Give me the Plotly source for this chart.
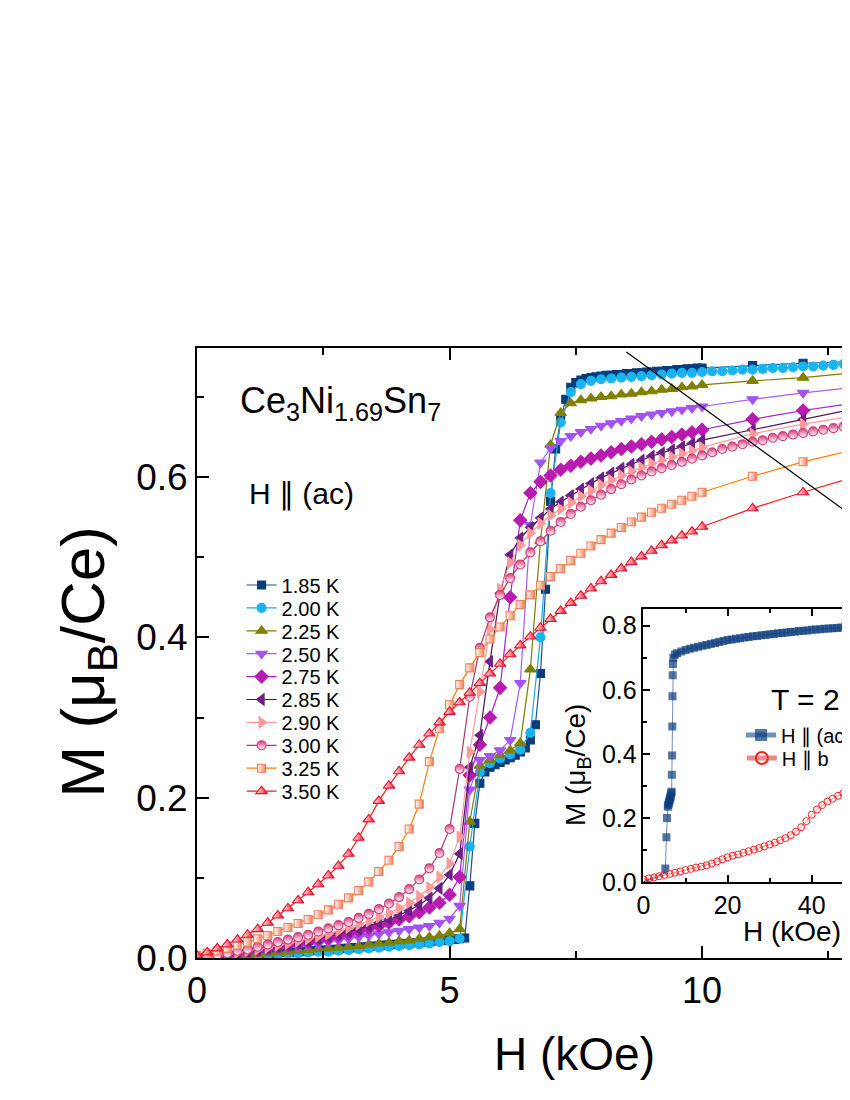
import plotly.graph_objects as go

FONT = "Arial, 'Liberation Sans', Helvetica, sans-serif"

# ---------------- main panel data (H in kOe, M in muB/Ce) ----------------
H_FINE = [0.0, 0.1, 0.2, 0.3, 0.4, 0.5, 0.6, 0.7, 0.8, 0.9,
          1.0, 1.1, 1.2, 1.3, 1.4, 1.5, 1.6, 1.7, 1.8, 1.9,
          2.0, 2.1, 2.2, 2.3, 2.4, 2.5, 2.6, 2.7, 2.8, 2.9,
          3.0, 3.1, 3.2, 3.3, 3.4, 3.5, 3.6, 3.7, 3.8, 3.9,
          4.0, 4.1, 4.2, 4.3, 4.4, 4.5, 4.6, 4.7, 4.8, 4.9,
          5.0, 5.1, 5.2, 5.3, 5.4, 5.5, 5.6, 5.7, 5.8, 5.9,
          6.0, 6.1, 6.2, 6.3, 6.4, 6.5, 6.6, 6.7, 6.8, 6.9,
          7.0, 7.1, 7.2, 7.3, 7.4, 7.5, 7.6, 7.7, 7.8, 7.9,
          8.0, 8.1, 8.2, 8.3, 8.4, 8.5, 8.6, 8.7, 8.8, 8.9,
          9.0, 9.1, 9.2, 9.3, 9.4, 9.5, 9.6, 9.7, 9.8, 9.9, 10.0]
H_STEP = [0.0, 0.2, 0.4, 0.6, 0.8, 1.0, 1.2, 1.4, 1.6, 1.8,
          2.0, 2.2, 2.4, 2.6, 2.8, 3.0, 3.2, 3.4, 3.6, 3.8,
          4.0, 4.2, 4.4, 4.6, 4.8, 5.0, 5.2, 5.4, 5.6, 5.8,
          6.0, 6.2, 6.4, 6.6, 6.8, 7.0, 7.2, 7.4, 7.6, 7.8,
          8.0, 8.2, 8.4, 8.6, 8.8, 9.0, 9.2, 9.4, 9.6, 9.8, 10.0]
H_TAIL = [11.0, 12.0, 13.0]
H_TAIL_DENSE = [10.2, 10.4, 10.6, 10.8, 11.0, 11.2, 11.4, 11.6, 11.8, 12.0,
                12.2, 12.4, 12.6, 12.8, 13.0]

M_185 = [0.000, 0.000, 0.001, 0.001, 0.001, 0.002, 0.002, 0.003, 0.003, 0.003,
         0.004, 0.004, 0.004, 0.005, 0.005, 0.006, 0.006, 0.007, 0.007, 0.007,
         0.008, 0.008, 0.009, 0.009, 0.010, 0.010, 0.010, 0.011, 0.011, 0.012,
         0.012, 0.013, 0.013, 0.014, 0.014, 0.015, 0.015, 0.016, 0.016, 0.017,
         0.017, 0.018, 0.018, 0.019, 0.019, 0.020, 0.020, 0.021, 0.022, 0.022,
         0.023, 0.023, 0.024, 0.025, 0.090, 0.168, 0.218, 0.232, 0.238, 0.241,
         0.244, 0.247, 0.250, 0.253, 0.257, 0.262, 0.272, 0.291, 0.355, 0.460,
         0.570, 0.635, 0.672, 0.697, 0.712, 0.718, 0.721, 0.723, 0.724, 0.725,
         0.726, 0.727, 0.727, 0.728, 0.728, 0.729, 0.729, 0.730, 0.730, 0.731,
         0.731, 0.732, 0.732, 0.733, 0.733, 0.734, 0.734, 0.735, 0.735, 0.736, 0.736]
M_185_TAIL = [0.739, 0.742, 0.744]

M_200 = [0.000, 0.000, 0.001, 0.001, 0.002, 0.003, 0.003, 0.004, 0.005, 0.005,
         0.006, 0.007, 0.008, 0.008, 0.009, 0.010, 0.011, 0.012, 0.013, 0.014,
         0.015, 0.016, 0.017, 0.018, 0.020, 0.021, 0.024, 0.139, 0.232, 0.243,
         0.249, 0.254, 0.260, 0.281, 0.400, 0.580, 0.668, 0.706, 0.716, 0.720,
         0.722, 0.723, 0.724, 0.725, 0.726, 0.727, 0.728, 0.729, 0.730, 0.730, 0.731]
M_200_TAIL = [0.732, 0.732, 0.733, 0.734, 0.734, 0.735, 0.736, 0.736, 0.737, 0.738,
              0.738, 0.739, 0.740, 0.741, 0.742]

M_225 = [0.000, 0.001, 0.001, 0.002, 0.003, 0.004, 0.005, 0.006, 0.007, 0.008,
         0.009, 0.010, 0.011, 0.012, 0.013, 0.014, 0.015, 0.017, 0.018, 0.019,
         0.021, 0.022, 0.024, 0.026, 0.028, 0.031, 0.036, 0.170, 0.240, 0.247,
         0.253, 0.259, 0.268, 0.360, 0.520, 0.640, 0.680, 0.692, 0.696, 0.698,
         0.700, 0.701, 0.703, 0.704, 0.706, 0.707, 0.709, 0.710, 0.712, 0.713, 0.715]
M_225_TAIL = [0.720, 0.724, 0.730]

M_250 = [0.000, 0.001, 0.002, 0.004, 0.005, 0.007, 0.008, 0.010, 0.011, 0.013,
         0.014, 0.016, 0.018, 0.020, 0.022, 0.024, 0.026, 0.028, 0.030, 0.032,
         0.034, 0.036, 0.038, 0.040, 0.044, 0.049, 0.065, 0.210, 0.247, 0.252,
         0.259, 0.272, 0.343, 0.540, 0.618, 0.636, 0.645, 0.651, 0.656, 0.660,
         0.664, 0.667, 0.670, 0.673, 0.676, 0.678, 0.680, 0.682, 0.684, 0.686, 0.688]
M_250_TAIL = [0.697, 0.705, 0.712]

M_275 = [0.000, 0.001, 0.002, 0.004, 0.006, 0.008, 0.010, 0.012, 0.014, 0.016,
         0.018, 0.020, 0.023, 0.025, 0.028, 0.031, 0.034, 0.037, 0.040, 0.044,
         0.048, 0.052, 0.057, 0.063, 0.069, 0.079, 0.101, 0.228, 0.266, 0.300,
         0.337, 0.450, 0.546, 0.580, 0.594, 0.602, 0.609, 0.614, 0.619, 0.623,
         0.627, 0.631, 0.635, 0.638, 0.641, 0.644, 0.647, 0.650, 0.653, 0.656, 0.659]
M_275_TAIL = [0.672, 0.683, 0.692]

M_285 = [0.000, 0.001, 0.003, 0.004, 0.006, 0.008, 0.010, 0.012, 0.014, 0.016,
         0.019, 0.021, 0.024, 0.027, 0.030, 0.033, 0.036, 0.040, 0.044, 0.048,
         0.053, 0.059, 0.066, 0.075, 0.087, 0.104, 0.130, 0.238, 0.278, 0.370,
         0.455, 0.503, 0.524, 0.537, 0.549, 0.560, 0.569, 0.577, 0.585, 0.592,
         0.599, 0.605, 0.611, 0.616, 0.621, 0.626, 0.630, 0.634, 0.638, 0.642, 0.646]
M_285_TAIL = [0.659, 0.672, 0.685]

M_290 = [0.000, 0.001, 0.003, 0.005, 0.007, 0.009, 0.011, 0.013, 0.016, 0.018,
         0.021, 0.024, 0.027, 0.030, 0.034, 0.038, 0.042, 0.046, 0.051, 0.056,
         0.062, 0.069, 0.077, 0.088, 0.101, 0.118, 0.151, 0.257, 0.332, 0.410,
         0.460, 0.493, 0.515, 0.530, 0.542, 0.552, 0.560, 0.568, 0.576, 0.583,
         0.590, 0.596, 0.602, 0.607, 0.612, 0.617, 0.621, 0.625, 0.629, 0.633, 0.637]
M_290_TAIL = [0.654, 0.666, 0.676]

M_300 = [0.000, 0.002, 0.004, 0.006, 0.009, 0.011, 0.014, 0.017, 0.020, 0.023,
         0.026, 0.029, 0.033, 0.037, 0.041, 0.045, 0.050, 0.055, 0.061, 0.068,
         0.076, 0.086, 0.098, 0.112, 0.131, 0.161, 0.236, 0.326, 0.387, 0.425,
         0.453, 0.474, 0.491, 0.506, 0.520, 0.533, 0.544, 0.554, 0.563, 0.571,
         0.578, 0.585, 0.591, 0.597, 0.602, 0.607, 0.611, 0.615, 0.619, 0.623, 0.627]
M_300_TAIL = [0.631, 0.635, 0.638, 0.641, 0.644, 0.646, 0.649, 0.651, 0.653, 0.655,
              0.657, 0.659, 0.661, 0.663, 0.665]

M_325 = [0.003, 0.006, 0.009, 0.012, 0.016, 0.020, 0.024, 0.028, 0.033, 0.038,
         0.043, 0.048, 0.054, 0.060, 0.067, 0.075, 0.084, 0.095, 0.108, 0.122,
         0.139, 0.161, 0.192, 0.245, 0.286, 0.316, 0.341, 0.362, 0.381, 0.398,
         0.413, 0.427, 0.441, 0.453, 0.465, 0.476, 0.486, 0.496, 0.505, 0.514,
         0.522, 0.530, 0.537, 0.544, 0.550, 0.556, 0.561, 0.566, 0.571, 0.576, 0.581]
M_325_TAIL = [0.601, 0.619, 0.634]

M_350 = [0.003, 0.007, 0.012, 0.017, 0.023, 0.029, 0.036, 0.044, 0.053, 0.062,
         0.072, 0.082, 0.092, 0.103, 0.115, 0.130, 0.150, 0.173, 0.196, 0.215,
         0.233, 0.250, 0.266, 0.280, 0.294, 0.307, 0.319, 0.331, 0.343, 0.355,
         0.367, 0.379, 0.390, 0.401, 0.412, 0.423, 0.433, 0.443, 0.452, 0.461,
         0.470, 0.478, 0.486, 0.494, 0.501, 0.508, 0.515, 0.521, 0.527, 0.532, 0.538]
M_350_TAIL = [0.561, 0.581, 0.600]

# ---------------- inset data (T = 2 K) ----------------
INSET_H_AC = [0, 1, 2, 3, 4, 5, 5.2, 5.45, 5.6, 5.8, 5.9, 6.0, 6.1, 6.2, 6.3, 6.4,
              6.5, 6.6, 6.7, 6.75, 6.8, 6.85, 6.9, 6.95, 7.0, 7.1, 7.5,
              8, 9, 10, 11, 12, 13, 14, 15, 16, 17, 18, 19, 20, 21, 22, 23, 24,
              25, 26, 27, 28, 29, 30, 31, 32, 33, 34, 35, 36, 37, 38, 39, 40,
              41, 42, 43, 44, 45, 46, 47, 48, 49, 50, 51]
INSET_M_AC = [0.000, 0.005, 0.010, 0.015, 0.021, 0.030, 0.042, 0.140, 0.200, 0.235,
              0.240, 0.245, 0.250, 0.255, 0.260, 0.265, 0.270, 0.278, 0.282, 0.335,
              0.395, 0.485, 0.580, 0.645, 0.680, 0.700, 0.710,
              0.714, 0.719, 0.724, 0.728, 0.731, 0.734, 0.737, 0.740, 0.743, 0.746,
              0.749, 0.752, 0.755, 0.757, 0.759, 0.761, 0.763, 0.765, 0.767, 0.768,
              0.770, 0.771, 0.773, 0.774, 0.776, 0.777, 0.779, 0.780, 0.781, 0.783,
              0.784, 0.785, 0.787, 0.788, 0.789, 0.790, 0.791, 0.792, 0.793, 0.794,
              0.795, 0.796, 0.797, 0.798]
INSET_H_B = [0, 1.25, 2.5, 3.75, 5, 6.25, 7.5, 8.75, 10, 11.25, 12.5, 13.75, 15,
             16.25, 17.5, 18.75, 20, 21.25, 22.5, 23.75, 25, 26.25, 27.5, 28.75,
             30, 31.25, 32.5, 33.75, 35, 36.25, 37.5, 38.75, 40, 41.25, 42.5,
             43.75, 45, 46.25, 47.5, 48.75, 50]
INSET_M_B = [0.008, 0.011, 0.014, 0.018, 0.022, 0.025, 0.029, 0.033, 0.037, 0.041,
             0.045, 0.048, 0.052, 0.058, 0.064, 0.071, 0.077, 0.082, 0.086, 0.091,
             0.096, 0.101, 0.106, 0.111, 0.117, 0.123, 0.130, 0.137, 0.146, 0.157,
             0.171, 0.190, 0.210, 0.226, 0.240, 0.251, 0.260, 0.269, 0.277, 0.284,
             0.290]

SERIES = [
    ("1.85 K", H_FINE + H_TAIL, M_185 + M_185_TAIL),
    ("2.00 K", H_STEP + H_TAIL_DENSE, M_200 + M_200_TAIL),
    ("2.25 K", H_STEP + H_TAIL, M_225 + M_225_TAIL),
    ("2.50 K", H_STEP + H_TAIL, M_250 + M_250_TAIL),
    ("2.75 K", H_STEP + H_TAIL, M_275 + M_275_TAIL),
    ("2.85 K", H_STEP + H_TAIL, M_285 + M_285_TAIL),
    ("2.90 K", H_STEP + H_TAIL, M_290 + M_290_TAIL),
    ("3.00 K", H_STEP + H_TAIL_DENSE, M_300 + M_300_TAIL),
    ("3.25 K", H_STEP + H_TAIL, M_325 + M_325_TAIL),
    ("3.50 K", H_STEP + H_TAIL, M_350 + M_350_TAIL),
]

# symbol, line colour, fill colour, edge colour, size, gradient
STYLES = {
    "1.85 K": ("square", "#1f4f8f", "#0b3c7c", "#0b3c7c", 8, None),
    "2.00 K": ("circle", "#1aa8e6", "#19b4f0", "#19b4f0", 9, None),
    "2.25 K": ("triangle-up", "#7d7d00", "#808000", "#808000", 10, None),
    "2.50 K": ("triangle-down", "#a65ef5", "#a451f5", "#a451f5", 10, None),
    "2.75 K": ("diamond", "#a41ed2", "#b81bb0", "#b81bb0", 10, None),
    "2.85 K": ("triangle-left", "#4c1352", "#6b2185", "#6b2185", 10, None),
    "2.90 K": ("triangle-right", "#ff9a9a", "#ff9a9a", "#ff9a9a", 10, None),
    "3.00 K": ("circle", "#a83a6c", "#d23c7a", "#d23c7a", 9,
               dict(type="vertical", color="#ffffff")),
    "3.25 K": ("square", "#ff8000", "#ffffff", "#f0805a", 8,
               dict(type="horizontal", color="#f0805a")),
    "3.50 K": ("triangle-up", "#ff1a1a", "#ffffff", "#e8102a", 10,
               dict(type="horizontal", color="#e8102a")),
}

# page offset (body margin) plus a small horizontal correction; every position
# below is given in pixels of the final picture
OFF = 8
SX = 1.0066
W = int(round(850 * SX)) - OFF
H = 1100 - 2 * OFF


def px_x(p):
    return (p * SX - OFF) / W


def px_y(p):
    return 1.0 - (p - OFF) / H


MAIN_X_MAX = (850 - 196) / 50.2
INSET_X_MAX = (850 - 640) / 4.175

fig = go.Figure()
legends = {}

# main curves: one small legend per entry so the rows sit where the original has them
for i, (name, h, m) in enumerate(SERIES):
    symbol, lcol, fill, edge, size, grad = STYLES[name]
    marker = dict(symbol=symbol, size=size, color=fill,
                  line=dict(color=edge, width=1.1))
    if grad:
        marker["gradient"] = grad
    key = "legend" if i == 0 else "legend%d" % (i + 1)
    fig.add_trace(go.Scatter(
        x=h, y=m, name=name, mode="lines+markers",
        line=dict(color=lcol, width=1.2),
        marker=marker, showlegend=True,
        xaxis="x", yaxis="y", legend=key,
    ))
    legends[key] = dict(x=px_x(240), y=px_y(585 + 22.9 * i), xanchor="left",
                        yanchor="middle", bgcolor="rgba(0,0,0,0)",
                        font=dict(size=20), itemsizing="trace", borderwidth=0,
                        visible=True)

# inset
ac_sizes = [3 if h < 5.1 else 8 for h in INSET_H_AC]
fig.add_trace(go.Scatter(
    x=INSET_H_AC, y=INSET_M_AC, name="H \u2225 (ac)", mode="lines+markers",
    line=dict(color="#6f8fbd", width=1),
    marker=dict(symbol="square", size=ac_sizes, color="#0b3c7c",
                line=dict(width=0)),
    showlegend=True, xaxis="x2", yaxis="y2", legend="legend11",
))
fig.add_trace(go.Scatter(
    x=INSET_H_B, y=INSET_M_B, name="H \u2225 b", mode="lines+markers",
    line=dict(color="#f08a8a", width=1),
    marker=dict(symbol="circle-open", size=7, color="#ff2020",
                line=dict(width=1)),
    showlegend=True, xaxis="x2", yaxis="y2", legend="legend12",
))
for j, key in enumerate(["legend11", "legend12"]):
    legends[key] = dict(x=px_x(737), y=px_y(735 + 23 * j), xanchor="left",
                        yanchor="middle", bgcolor="rgba(0,0,0,0)",
                        font=dict(size=20), itemsizing="constant", borderwidth=0,
                        visible=True)

axis_common = dict(
    showline=True, linecolor="black", showgrid=False, zeroline=False,
    ticks="inside", tickcolor="black", automargin=False,
)

fig.update_layout(
    template="none",
    width=W, height=H,
    showlegend=True,
    margin=dict(l=0, r=0, t=0, b=0, pad=0),
    paper_bgcolor="white", plot_bgcolor="rgba(0,0,0,0)",
    font=dict(family=FONT, color="black"),
    xaxis=dict(axis_common, domain=[px_x(196), 1.0], range=[0, MAIN_X_MAX],
               linewidth=2, mirror="ticks", tickwidth=2, ticklen=12,
               dtick=5, tick0=0, tickfont=dict(size=36),
               minor=dict(dtick=2.5, ticks="inside", ticklen=7, tickwidth=2,
                          tickcolor="black"),
               anchor="y"),
    yaxis=dict(axis_common, domain=[px_y(958), px_y(348)], range=[0, 0.761],
               linewidth=2, tickwidth=2, ticklen=12, dtick=0.2, tick0=0,
               tickformat=".1f", tickfont=dict(size=37),
               minor=dict(dtick=0.1, ticks="inside", ticklen=7, tickwidth=2,
                          tickcolor="black"),
               anchor="x"),
    xaxis2=dict(axis_common, domain=[px_x(640), 1.0], range=[0, INSET_X_MAX],
                linewidth=1.5, mirror="ticks", tickwidth=1.5, ticklen=7,
                dtick=20, tick0=0, tickfont=dict(size=25),
                minor=dict(dtick=10, ticks="inside", ticklen=4, tickwidth=1.5,
                           tickcolor="black"),
                anchor="y2"),
    yaxis2=dict(axis_common, domain=[px_y(882), px_y(609)], range=[0, 0.852],
                linewidth=1.5, tickwidth=1.5, ticklen=7, dtick=0.2, tick0=0,
                tickformat=".1f", tickfont=dict(size=25),
                minor=dict(dtick=0.1, ticks="inside", ticklen=4, tickwidth=1.5,
                           tickcolor="black"),
                anchor="x2"),
    **legends,
)

fig.update_layout(annotations=[
    dict(text="Ce<sub>3</sub>Ni<sub>1.69</sub>Sn<sub>7</sub>", x=px_x(237), y=px_y(403),
         xanchor="left", yanchor="middle", font=dict(size=36)),
    dict(text="H \u2225 (ac)", x=px_x(246), y=px_y(494),
         xanchor="left", yanchor="middle", font=dict(size=30)),
    dict(text="M (\u03bc<sub>B</sub>/Ce)", x=px_x(87), y=px_y(662), textangle=-90,
         xanchor="center", yanchor="middle", font=dict(size=62)),
    dict(text="H (kOe)", x=px_x(571), y=px_y(1054),
         xanchor="center", yanchor="middle", font=dict(size=46)),
    dict(text="M (\u03bc<sub>B</sub>/Ce)", x=px_x(574), y=px_y(765), textangle=-90,
         xanchor="center", yanchor="middle", font=dict(size=28)),
    dict(text="H (kOe)", x=px_x(788), y=px_y(931),
         xanchor="center", yanchor="middle", font=dict(size=28)),
    dict(text="T = 2 K", x=px_x(765), y=px_y(699),
         xanchor="left", yanchor="middle", font=dict(size=30)),
])
for a in fig.layout.annotations:
    a.xref = "paper"
    a.yref = "paper"
    a.showarrow = False

# guide line from the main panel towards the inset
fig.add_shape(type="line", xref="paper", yref="paper",
              x0=px_x(623), y0=px_y(352), x1=1.0, y1=px_y(518),
              line=dict(color="black", width=1.2))

fig.write_html("out.html")
